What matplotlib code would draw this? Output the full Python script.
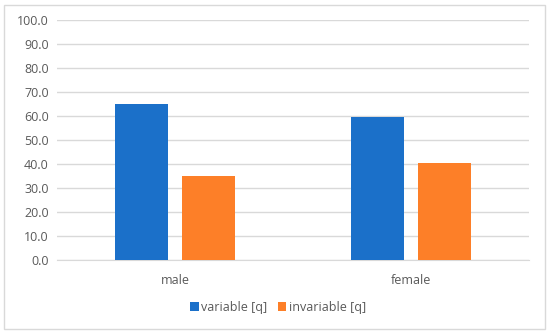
import matplotlib.pyplot as plt
import numpy as np

plt.rcParams['font.family'] = ['Open Sans', 'DejaVu Sans']

categories = ['male', 'female']
variable_q = [65.0, 59.7]
invariable_q = [35.0, 40.3]
yticks = [0, 10, 20, 30, 40, 50, 60, 70, 80, 90, 100]

fig = plt.figure(figsize=(5.5, 3.33), dpi=100)
ax = fig.add_axes([57 / 550, 1 - 260 / 333, 472 / 550, 240 / 333])

x = np.arange(len(categories))
w = 0.225
off = 0.1425
ax.bar(x - off, variable_q, w, color='#1B70C9', label='variable [q]', zorder=3)
ax.bar(x + off, invariable_q, w, color='#FD7F28', label='invariable [q]', zorder=3)

ax.set_xlim(-0.5, 1.5)
ax.set_ylim(0, 100)
ax.set_yticks(yticks)
ax.set_yticklabels([f'{v:.1f}' for v in yticks])
ax.set_xticks(x)
ax.set_xticklabels(categories)
ax.grid(axis='y', color='#D9D9D9', linewidth=1, zorder=0)
ax.tick_params(length=0, labelsize=9, colors='#595959')
ax.tick_params(axis='x', pad=10)
ax.tick_params(axis='y', pad=6)
for s in ['top', 'right', 'left']:
    ax.spines[s].set_visible(False)
ax.spines['bottom'].set_color('#D9D9D9')

leg = fig.legend(loc='center', bbox_to_anchor=(278 / 550, 1 - 307 / 333), ncol=2,
                 frameon=False, fontsize=9, handlelength=0.7, handleheight=0.7,
                 handletextpad=0.2, columnspacing=0.8)
for t in leg.get_texts():
    t.set_color('#595959')

border = plt.Rectangle((4 / 550, 4 / 333), 541 / 550, 324 / 333, transform=fig.transFigure,
                       fill=False, edgecolor='#D9D9D9', linewidth=1)
fig.patches.append(border)

fig.savefig('out.png', dpi=100)
